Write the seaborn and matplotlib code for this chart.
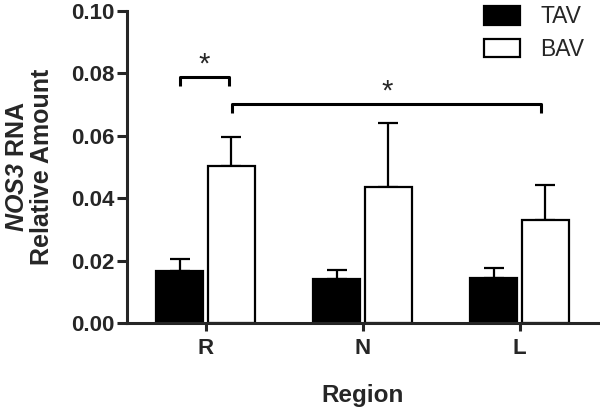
import numpy as np
import pandas as pd
import matplotlib
matplotlib.use("Agg")
import matplotlib.pyplot as plt
import seaborn as sns

regions = ["R", "N", "L"]
groups = ["TAV", "BAV"]
tav_mean = [0.0168, 0.0140, 0.0144]
bav_mean = [0.0503, 0.0437, 0.0330]
tav_err = [0.0036, 0.0030, 0.0033]
bav_err = [0.0092, 0.0205, 0.0112]
yticks = [0.00, 0.02, 0.04, 0.06, 0.08, 0.10]

sns.set_theme(style="ticks")
plt.rcParams['font.family'] = ['Liberation Sans', 'DejaVu Sans']
plt.rcParams['mathtext.fontset'] = 'custom'
plt.rcParams['mathtext.bfit'] = 'Liberation Sans:italic:bold'
plt.rcParams['mathtext.bf'] = 'Liberation Sans:bold'
plt.rcParams['mathtext.rm'] = 'Liberation Sans'

df = pd.DataFrame({
    "Region": regions * 2,
    "Group": ["TAV"] * 3 + ["BAV"] * 3,
    "Value": tav_mean + bav_mean,
})

fig = plt.figure(figsize=(6.0, 4.08), dpi=100)
ax = fig.add_axes([0.2117, 0.2083, 0.785, 0.7647])

sns.barplot(data=df, x="Region", y="Value", hue="Group", order=regions,
            hue_order=groups, palette={"TAV": "black", "BAV": "white"},
            width=0.66, gap=0.09, edgecolor="black", linewidth=1.6,
            errorbar=None, ax=ax, zorder=2)

errs = {"TAV": tav_err, "BAV": bav_err}
means = {"TAV": tav_mean, "BAV": bav_mean}
for gi, g in enumerate(groups):
    cont = ax.containers[gi]
    xs = [p.get_x() + p.get_width() / 2 for p in cont.patches]
    ax.errorbar(xs, means[g], yerr=[np.zeros(3), errs[g]], fmt="none",
                ecolor="black", elinewidth=1.6, capsize=7.5, capthick=1.6,
                zorder=1)

ax.set_xlim(-0.5, 2.5)
ax.set_ylim(0, 0.1)
ax.set_yticks(yticks)
ax.set_yticklabels([f"{t:.2f}" for t in yticks])
for lab in ax.get_yticklabels() + ax.get_xticklabels():
    lab.set_fontweight("bold")
    lab.set_fontsize(16)
ax.tick_params(axis="y", length=7, width=2.2, pad=2)
ax.tick_params(axis="x", length=6, width=2.2, pad=5)
for s in ["left", "bottom"]:
    ax.spines[s].set_linewidth(2.2)
sns.despine(ax=ax)

ax.set_xlabel("Region", fontsize=17.5, fontweight="bold")
ax.xaxis.set_label_coords(0.5, -0.195)
ax.set_ylabel(r"$\mathbfit{NOS3}$ RNA" + "\nRelative Amount", fontsize=18,
              fontweight="bold", linespacing=1.05)
ax.yaxis.set_label_coords(-0.155, 0.5)

def bracket(x1, x2, y, h, txt):
    ax.plot([x1, x1, x2, x2], [y - h, y, y, y - h], color="black", lw=2.2,
            clip_on=False, solid_capstyle="butt")
    ax.text((x1 + x2) / 2, y - 0.0004, txt, ha="center", va="bottom",
            fontsize=21)

bracket(-0.165, 0.15, 0.0788, 0.0028, "*")
bracket(0.17, 2.138, 0.0701, 0.0028, "*")

leg = ax.legend(loc="upper right", bbox_to_anchor=(1.0, 1.062), frameon=False,
                fontsize=16.5, handlelength=1.55, handleheight=0.85,
                handletextpad=0.9, labelspacing=0.42, borderaxespad=0.2)
for h in leg.legend_handles:
    h.set_linewidth(1.6)
    h.set_edgecolor("black")

fig.savefig("out.png", dpi=100)
